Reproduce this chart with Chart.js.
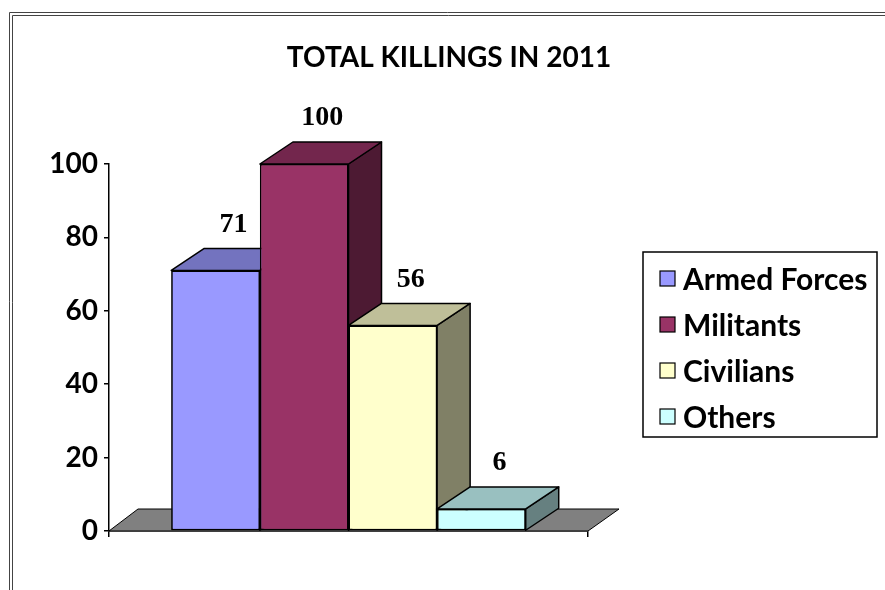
<!DOCTYPE html>
<html>
<head>
<meta charset="utf-8">
<script src="https://cdn.jsdelivr.net/npm/chart.js@4.4.1/dist/chart.umd.min.js"></script>
<style>
  html, body { margin: 0; padding: 0; background: #fff; }
</style>
</head>
<body>
<canvas id="chart" width="885" height="590"></canvas>
<script>
const categories = ['Armed Forces', 'Militants', 'Civilians', 'Others'];
const killings = [71, 100, 56, 6];
const yTicks = [0, 20, 40, 60, 80, 100];
const chartTitle = 'TOTAL KILLINGS IN 2011';

const frontColors = ['#9999FF', '#993366', '#FFFFCC', '#CCFFFF'];
const topColors = ['#7373BF', '#73264D', '#BFBF99', '#99C0C0'];
const sideColors = ['#4D4D80', '#4D1A33', '#808066', '#668080'];
const DEPTH = { dx: 33, dy: -22 };
const SANS = 'Lato, "Open Sans", sans-serif';
const SERIF = '"Liberation Serif", "Times New Roman", serif';

function poly(ctx, pts, fill) {
  ctx.beginPath();
  ctx.moveTo(pts[0][0], pts[0][1]);
  for (let i = 1; i < pts.length; i++) ctx.lineTo(pts[i][0], pts[i][1]);
  ctx.closePath();
  ctx.fillStyle = fill;
  ctx.fill();
  ctx.stroke();
}

const framePlugin = {
  id: 'frame',
  beforeDraw(chart) {
    const ctx = chart.ctx;
    ctx.save();
    ctx.fillStyle = '#fff';
    ctx.fillRect(0, 0, chart.width, chart.height);
    ctx.strokeStyle = '#444';
    ctx.lineWidth = 1;
    ctx.beginPath();
    ctx.moveTo(9.5, chart.height); ctx.lineTo(9.5, 12.5); ctx.lineTo(chart.width, 12.5);
    ctx.moveTo(12.5, chart.height); ctx.lineTo(12.5, 15.5); ctx.lineTo(chart.width, 15.5);
    ctx.stroke();
    // title, centred over the whole frame
    ctx.fillStyle = '#000';
    ctx.font = 'bold 28px ' + SANS;
    ctx.textAlign = 'center';
    ctx.textBaseline = 'middle';
    ctx.fillText(chartTitle, 449, 58);
    ctx.restore();
  }
};

const floorPlugin = {
  id: 'floor',
  beforeDatasetsDraw(chart) {
    const { ctx, chartArea } = chart;
    const { left, right, bottom } = chartArea;
    ctx.save();
    ctx.strokeStyle = '#000';
    ctx.lineWidth = 1;
    ctx.lineJoin = 'round';
    poly(ctx, [[left, bottom], [left + DEPTH.dx - 4, bottom + DEPTH.dy],
      [right + DEPTH.dx - 2, bottom + DEPTH.dy], [right, bottom]], '#808080');
    ctx.restore();
  }
};

// redraw bars left to right so each front hides the side face of the bar before it
const bars3dPlugin = {
  id: 'bars3d',
  afterDatasetsDraw(chart) {
    const ctx = chart.ctx;
    const { dx, dy } = DEPTH;
    chart.data.datasets.forEach((ds, i) => {
      const bar = chart.getDatasetMeta(i).data[0];
      const { x, y, base, width } = bar.getProps(['x', 'y', 'base', 'width'], true);
      const l = x - width / 2, r = x + width / 2;
      bar.draw(ctx);
      ctx.save();
      ctx.strokeStyle = '#000';
      ctx.lineWidth = 1.5;
      ctx.lineJoin = 'round';
      poly(ctx, [[r, y], [r + dx, y + dy], [r + dx, base + dy], [r, base]], sideColors[i]);
      poly(ctx, [[l, y], [l + dx, y + dy], [r + dx, y + dy], [r, y]], topColors[i]);
      ctx.restore();
    });

    ctx.save();
    ctx.fillStyle = '#000';
    ctx.font = 'bold 28px ' + SERIF;
    ctx.textAlign = 'center';
    ctx.textBaseline = 'middle';
    chart.data.datasets.forEach((ds, i) => {
      const bar = chart.getDatasetMeta(i).data[0];
      const { x, y } = bar.getProps(['x', 'y'], true);
      ctx.fillText(String(ds.data[0]), x + 18, y + dy - 24);
    });
    ctx.restore();
  }
};

const legendPlugin = {
  id: 'boxLegend',
  afterDraw(chart) {
    const ctx = chart.ctx;
    const box = { x: 643, y: 252, w: 234, h: 185 };
    ctx.save();
    ctx.fillStyle = '#fff';
    ctx.strokeStyle = '#000';
    ctx.lineWidth = 1.5;
    ctx.fillRect(box.x, box.y, box.w, box.h);
    ctx.strokeRect(box.x, box.y, box.w, box.h);
    ctx.font = 'bold 30px ' + SANS;
    ctx.textBaseline = 'middle';
    chart.data.datasets.forEach((ds, i) => {
      const cy = box.y + 27 + i * 46;
      ctx.fillStyle = frontColors[i];
      ctx.lineWidth = 1.2;
      ctx.fillRect(box.x + 17, cy - 8, 15, 15);
      ctx.strokeRect(box.x + 17, cy - 8, 15, 15);
      ctx.fillStyle = '#000';
      ctx.fillText(ds.label, box.x + 40, cy + 1);
    });
    ctx.restore();
  }
};

const datasets = categories.map((name, i) => ({
  label: name,
  data: [killings[i]],
  backgroundColor: frontColors[i],
  borderColor: '#000',
  borderWidth: 1.5,
  borderSkipped: false,
  barPercentage: 1,
  categoryPercentage: 0.74
}));

new Chart(document.getElementById('chart'), {
  type: 'bar',
  data: { labels: [''], datasets },
  options: {
    responsive: false,
    animation: false,
    layout: { padding: { top: 164, left: 0, right: 297, bottom: 53 } },
    plugins: {
      legend: { display: false },
      tooltip: { enabled: false },
      title: { display: false }
    },
    scales: {
      x: {
        grid: { display: true, drawOnChartArea: false, offset: true, tickLength: 6, color: '#000', lineWidth: 1.5 },
        border: { color: '#000', width: 1.5 },
        ticks: { display: false }
      },
      y: {
        min: 0,
        max: 100,
        afterFit(scale) { scale.width = 109; },
        afterBuildTicks(scale) { scale.ticks = yTicks.map(v => ({ value: v })); },
        grid: { drawOnChartArea: false, tickLength: 5, color: '#000', lineWidth: 1.5 },
        border: { color: '#000', width: 1.5 },
        ticks: { color: '#000', padding: 6, font: { family: SANS, size: 28, weight: 'bold' } }
      }
    }
  },
  plugins: [framePlugin, floorPlugin, bars3dPlugin, legendPlugin]
});
</script>
</body>
</html>
